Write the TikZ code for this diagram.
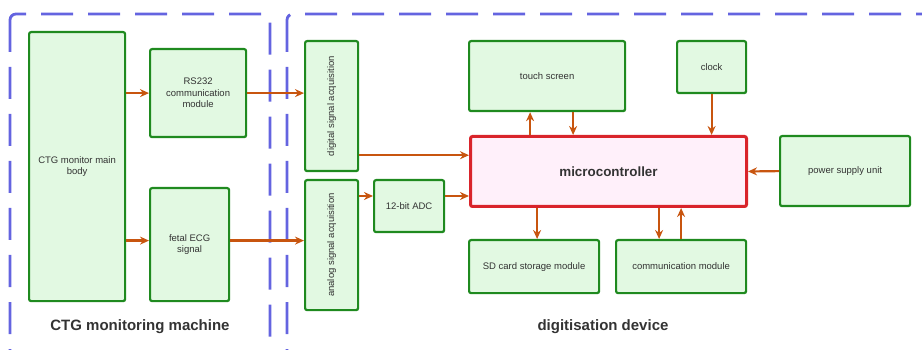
\documentclass[tikz,border=0pt]{standalone}
\usepackage{fontspec}
\usepackage{graphicx}
\setmainfont{Liberation Sans}
\usetikzlibrary{arrows.meta}
\definecolor{boxgreen}{RGB}{31,138,31}
\definecolor{boxfill}{RGB}{226,249,226}
\definecolor{mcred}{RGB}{217,36,43}
\definecolor{mcfill}{RGB}{255,240,250}
\definecolor{arrorange}{RGB}{200,85,15}
\definecolor{groupblue}{RGB}{100,100,224}
\tikzset{
  blk/.style={draw=boxgreen, fill=boxfill, line width=2.2pt, rounded corners=2pt,
    anchor=north west, inner sep=0pt, align=center, text=black!80,
    font=\fontsize{9.5}{11.5}\selectfont},
  mcblk/.style={blk, draw=mcred, fill=mcfill, line width=3pt,
    font=\fontsize{13.4}{15}\selectfont\bfseries},
  arr/.style={draw=arrorange, line width=2.2pt, -{Stealth[length=9pt,width=8pt]}},
  group/.style={draw=groupblue, line width=2.8pt, rounded corners=6pt,
    dash pattern=on 32pt off 15pt},
  grouplabel/.style={text=black!80, font=\fontsize{15}{17}\selectfont\bfseries}
}
\begin{document}
\begin{tikzpicture}[x=1pt, y=-1pt]
  \useasboundingbox (0,0) rectangle (922,350);
  % groups
  \draw[group] (10,14) rectangle (270,380);
  \draw[group] (287,14) rectangle (940,380);
  \node[grouplabel] (lblctg) at (140,327) {CTG monitoring machine};
  \node[grouplabel] (lbldig) at (603,327) {digitisation device};

  % CTG monitoring machine
  \node[blk, minimum width=96, minimum height=269] (main) at (28,31) {CTG monitor main\\body};
  \node[blk, minimum width=96, minimum height=88] (rs) at (149,48) {RS232\\communication\\module};
  \node[blk, minimum width=79, minimum height=113] (ecg) at (149,187) {fetal ECG\\signal};

  % digitisation device
  \node[blk, minimum width=53, minimum height=130] (dig) at (304,40) {\rotatebox{90}{digital signal acquisition}};
  \node[blk, minimum width=53, minimum height=130] (ana) at (304,179) {\rotatebox{90}{analog signal acquisition}};
  \node[blk, minimum width=70, minimum height=52] (adc) at (373,179) {12-bit ADC};
  \node[mcblk, minimum width=276, minimum height=70] (mc) at (469,135) {microcontroller};
  \node[blk, minimum width=156, minimum height=70] (ts) at (468,40) {touch screen};
  \node[blk, minimum width=69, minimum height=52] (clk) at (676,40) {clock};
  \node[blk, minimum width=130, minimum height=70] (psu) at (779,135) {power supply unit};
  \node[blk, minimum width=130, minimum height=53] (sd) at (468,239) {SD card storage module};
  \node[blk, minimum width=130, minimum height=53] (cm) at (615,239) {communication module};

  % connections
  \draw[arr] (rs.west -| main.east) -- (rs.west);
  \draw[arr] ([yshift=4pt]ecg.west -| main.east) -- ([yshift=4pt]ecg.west);
  \draw[arr] (rs.east) -- (rs.east -| dig.west);
  \draw[arr] ([yshift=4pt]ecg.east) -- ([yshift=4pt]ecg.east -| ana.west);
  \draw[arr] ([yshift=17pt]dig.south east) -- ([yshift=17pt]dig.south east -| mc.west);
  \draw[arr] ([yshift=-17pt]ana.north east) -- ([yshift=-17pt]ana.north east -| adc.west);
  \draw[arr] ([yshift=-17pt]ana.north east -| adc.east) -- ([yshift=-17pt]ana.north east -| mc.west);
  \draw[arr] ([xshift=-17pt]ts.south |- mc.north) -- ([xshift=-17pt]ts.south);
  \draw[arr] ([xshift=26pt]ts.south) -- ([xshift=26pt]ts.south |- mc.north);
  \draw[arr] (clk.south) -- (clk.south |- mc.north);
  \draw[arr] (psu.west) -- (mc.east);
  \draw[arr] ([xshift=3pt]sd.north |- mc.south) -- ([xshift=3pt]sd.north);
  \draw[arr] ([xshift=-22pt]cm.north |- mc.south) -- ([xshift=-22pt]cm.north);
  \draw[arr] (cm.north) -- (cm.north |- mc.south);
\end{tikzpicture}
\end{document}
